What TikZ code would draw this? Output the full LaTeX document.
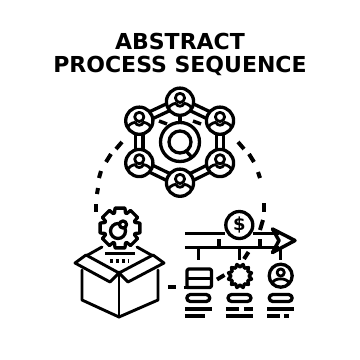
\documentclass[tikz,border=0pt]{standalone}
\usepackage{fontspec}
\setmainfont{DejaVu Sans}
\usetikzlibrary{calc}
\tikzset{
  ink/.style={draw=black,line width=3.3pt,line cap=butt,line join=round},
  boxline/.style={draw=black,line width=2.9pt,line cap=round,line join=round},
  thin ink/.style={draw=black,line width=2.8pt,line join=round},
  bar/.style={draw=black,line width=3.5pt},
  dashpiece/.style={draw=black,line width=4pt},
  titletext/.style={font=\bfseries\fontsize{22}{22}\selectfont,anchor=base,inner sep=0pt},
  person/.pic={
    \draw[ink,fill=white] (0,0) circle (13.6);
    \draw[thin ink] (0,-3.8) circle (4.6);
    \draw[thin ink] (-12,6.5) .. controls (-8,1.5) and (-5,2) .. (-3.6,1.5);
    \draw[thin ink] (12,6.5) .. controls (8,1.5) and (5,2) .. (3.6,1.5);
    \draw[thin ink] (-4,1.6) .. controls (-3,5.5) and (3,5.5) .. (4,1.6);
  },
  cogwheel/.pic={
    \draw[ink,fill=white] plot[smooth cycle,tension=0] coordinates {
      (-14:20.5)(14:20.5)(20:16)(25:16)(31:20.5)(59:20.5)(65:16)(70:16)(76:20.5)(104:20.5)(110:16)(115:16)(121:20.5)(149:20.5)(155:16)(160:16)(166:20.5)(194:20.5)(200:16)(205:16)(211:20.5)(239:20.5)(245:16)(250:16)(256:20.5)(284:20.5)(290:16)(295:16)(301:20.5)(329:20.5)(335:16)(340:16)};
  }
}
\begin{document}
\begin{tikzpicture}[x=1pt,y=-1pt]
\useasboundingbox (0,0) rectangle (360,360);
\fill[white] (0,0) rectangle (360,360);

% Heading
\node[titletext] (headA) at (180,49.3) {ABSTRACT};
\node[titletext] (headB) at (180,72.7) {PROCESS SEQUENCE};

% Hexagonal network: double links first, circles over them
\foreach \ax/\ay/\bx/\by in {180/101.7/220/120.7,220/120.7/220/163,220/163/180/182.7,180/182.7/139.3/163,139.3/163/139.3/120.7,139.3/120.7/180/101.7}{
  \draw[ink] ($(\ax,\ay)!3.8pt!90:(\bx,\by)$) -- ($(\bx,\by)!3.8pt!-90:(\ax,\ay)$);
  \draw[ink] ($(\ax,\ay)!3.8pt!-90:(\bx,\by)$) -- ($(\bx,\by)!3.8pt!90:(\ax,\ay)$);
}
\foreach \px/\py in {180/101.7,220/120.7,220/163,180/182.7,139.3/163,139.3/120.7}
  \pic at (\px,\py) {person};

% Magnifier at the hub
\draw[ink,line width=4.5pt] (180,116) -- (180,122);
\draw[ink] (180,142) circle (19.5);
\draw[ink] (180,142) circle (11);
\draw[ink] (186,151) -- (192.5,158);
\draw[bar] (159,121) -- (167,124);
\draw[bar] (193,121) -- (201,124);

% Dashed path from the hub down to the box and to the timeline
\draw[dashpiece] (122,142) -- (116,149);
\draw[dashpiece] (111,154) -- (106,162);
\draw[dashpiece] (101,171) -- (99,178);
\draw[dashpiece] (98,188) -- (97,194);
\draw[dashpiece] (96,204) -- (96,212);
\draw[dashpiece] (238,142) -- (244,149);
\draw[dashpiece] (249,154) -- (254,162);
\draw[dashpiece] (258,172) -- (260,178);
\draw[dashpiece] (264,203) -- (264,212);
\draw[dashpiece] (263,220) -- (260,230);

% Gear above the box
\pic at (120,228) {cogwheel};
\draw[ink] (118,231) circle (7.5);
\draw[ink,fill=white] (123,224.5) circle (3.5);

% Open box
\draw[boxline,fill=white] (82,270) -- (82,300) -- (119,317) -- (158,300) -- (158,270);
\draw[boxline] (119,272) -- (119,317);
\draw[boxline] (86,256) -- (102,247);
\draw[boxline] (137,247) -- (153,256);
\draw[boxline,fill=white] (86,255) -- (75,263) -- (110,282) -- (119,273) -- cycle;
\draw[boxline,fill=white] (153,255) -- (164,263) -- (128,282) -- (119,273) -- cycle;
\draw[bar] (105,253.5) -- (135,253.5);
\draw[bar,dash pattern=on 3.5pt off 2.5pt] (110,261) -- (129,261);
\draw[dashpiece] (168,287) -- (176,287);

% Timeline arrow with coin
\draw[bar] (185,233.3) -- (225,233.3);
\draw[bar] (253,233.3) -- (279,233.3);
\draw[bar] (185,247.7) -- (279,247.7);
\draw[ink,line width=3.5pt] (272.5,229) -- (295,240.5) -- (272.5,252.5) -- (279,240.5) -- cycle;
\draw[ink] (239.3,225) circle (13.5);
\node[inner sep=0pt,font=\bfseries\fontsize{18}{18}\selectfont] (coin) at (239.3,225) {\$};
\foreach \x in {219,260} \draw[ink] (\x,239) -- (\x,247.7);
\foreach \x in {198.3,239.3,280.7} \draw[ink] (\x,247.7) -- (\x,259.5);
\draw[dashpiece] (248.5,252) -- (244,259);

% Card, gear and person markers
\draw[ink,rounded corners=2pt] (187,287.5) -- (187,269) -- (211.5,269) -- (211.5,287.5) -- (187,287.5);
\draw[ink] (187,278.3) -- (211.5,278.3);
\draw[ink] (184,287.5) -- (190,287.5);
\draw[dashpiece] (217,279.5) -- (224.5,275);
\draw[ink] plot[smooth cycle,tension=0] coordinates {
  ($(240,276)+(0:9)$) ($(240,276)+(15:12)$) ($(240,276)+(30:9)$) ($(240,276)+(45:12)$) ($(240,276)+(60:9)$) ($(240,276)+(75:12)$) ($(240,276)+(90:9)$) ($(240,276)+(105:12)$) ($(240,276)+(120:9)$) ($(240,276)+(135:12)$) ($(240,276)+(150:9)$) ($(240,276)+(165:12)$) ($(240,276)+(180:9)$) ($(240,276)+(195:12)$) ($(240,276)+(210:9)$) ($(240,276)+(225:12)$) ($(240,276)+(240:9)$) ($(240,276)+(255:12)$) ($(240,276)+(270:9)$) ($(240,276)+(285:12)$) ($(240,276)+(300:9)$) ($(240,276)+(315:12)$) ($(240,276)+(330:9)$) ($(240,276)+(345:12)$)};
\draw[ink] (280.7,275.7) circle (11.5);
\draw[thin ink] (280.7,272.5) circle (3.6);
\draw[thin ink] (272.5,283) .. controls (274,277.5) and (287,277.5) .. (289,283);

% Pills and text lines beneath the markers
\foreach \x in {198.3,239.5,280.7}
  \draw[ink,rounded corners=3.6pt] (\x-11.5,294.5) rectangle (\x+11.5,301.5);
\draw[bar] (185,309) -- (212.5,309);
\draw[bar] (185,316) -- (205,316);
\draw[bar] (226,309) -- (239.5,309);
\draw[bar] (244,309) -- (253.5,309);
\draw[bar] (226,316) -- (253.5,316);
\draw[bar] (267.5,309) -- (294,309);
\draw[bar] (267.5,316) -- (280,316);
\draw[bar] (284,316) -- (289,316);
\end{tikzpicture}
\end{document}
